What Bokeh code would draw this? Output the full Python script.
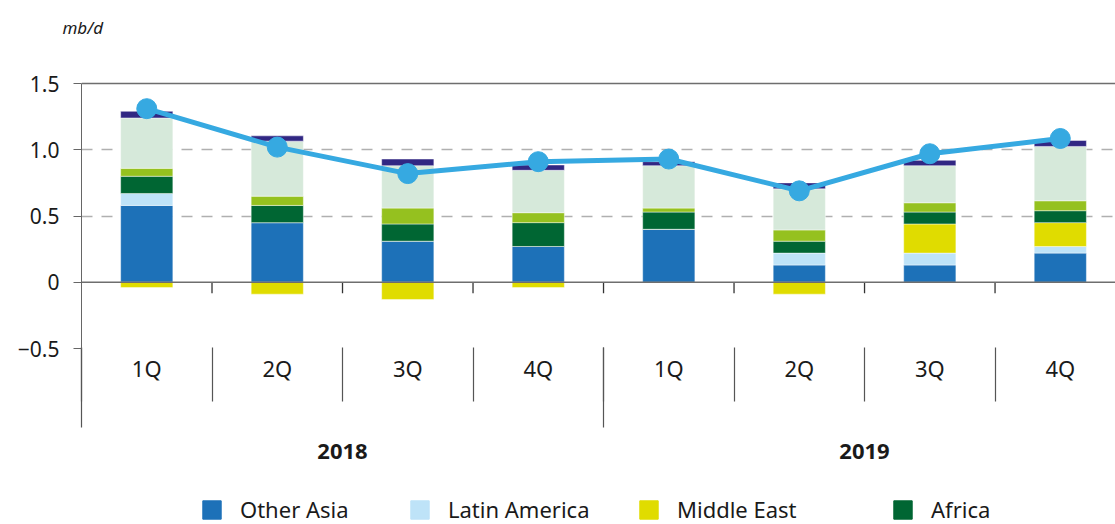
from bokeh.plotting import figure
from bokeh.layouts import column
from bokeh.models import (LinearAxis, FixedTicker, Range1d, Span, Legend,
                          LegendItem, ColumnDataSource)
from bokeh.embed import file_html
from bokeh.resources import INLINE

# ---------------- data ----------------
quarters = ["1Q", "2Q", "3Q", "4Q", "1Q", "2Q", "3Q", "4Q"]
years = ["2018", "2019"]

other_asia    = [0.58, 0.45, 0.31, 0.27, 0.40, 0.13, 0.13, 0.22]
latin_america = [0.09, 0.00, 0.00, 0.00, 0.00, 0.09, 0.09, 0.05]
middle_east   = [-0.04, -0.09, -0.13, -0.04, 0.00, -0.09, 0.22, 0.18]
africa        = [0.13, 0.13, 0.13, 0.18, 0.13, 0.09, 0.09, 0.09]
lime_series   = [0.06, 0.07, 0.12, 0.075, 0.03, 0.085, 0.07, 0.075]
pale_series   = [0.38, 0.415, 0.32, 0.32, 0.32, 0.31, 0.28, 0.41]
navy_series   = [0.05, 0.04, 0.05, 0.04, 0.03, 0.045, 0.04, 0.045]
total_line    = [1.31, 1.02, 0.82, 0.91, 0.93, 0.69, 0.97, 1.085]

series = [
    ("Other Asia", other_asia, "#1d71b8"),
    ("Latin America", latin_america, "#bee3f8"),
    ("Middle East", middle_east, "#e0dc00"),
    ("Africa", africa, "#006633"),
    ("lime", lime_series, "#95c11f"),
    ("pale", pale_series, "#d6e9da"),
    ("navy", navy_series, "#312783"),
]
legend_names = ["Other Asia", "Latin America", "Middle East", "Africa"]

y_ticks = [-0.5, 0, 0.5, 1.0, 1.5]
y_labels = ["\u22120.5", "0", "0.5", "1.0", "1.5"]

FONT = "Noto Sans"
TXT = "#1a1a1a"

x = [i + 0.5 for i in range(len(quarters))]
separators = list(range(len(quarters) + 1))
year_bounds = [0, 4, 8]

p = figure(width=1115, height=494, x_range=Range1d(0, 7.923),
           y_range=Range1d(-0.5, 1.802), output_backend="svg",
           toolbar_location=None, x_axis_type=None, title="mb/d",
           min_border_left=81, min_border_top=43, min_border_right=0,
           min_border_bottom=146)
p.outline_line_color = None
p.background_fill_color = "white"
p.border_fill_color = "white"

# title "mb/d"
p.title.align = "left"
p.title.offset = -19
p.title.standoff = 10
p.title.text_font = FONT
p.title.text_font_style = "italic"
p.title.text_font_size = "17px"
p.title.text_color = TXT

# y axis
yax = p.yaxis[0]
yax.ticker = FixedTicker(ticks=y_ticks)
yax.bounds = (y_ticks[0], y_ticks[-1])
yax.major_label_overrides = {t: l for t, l in zip(y_ticks, y_labels)}
yax.major_label_text_font = FONT
yax.major_label_text_font_size = "21px"
yax.major_label_text_color = TXT
yax.major_label_standoff = 14
yax.major_tick_out = 8
yax.major_tick_in = 0
yax.minor_tick_line_color = None
yax.axis_line_color = "#666666"
yax.major_tick_line_color = "#666666"

p.xgrid.visible = False
p.ygrid.ticker = FixedTicker(ticks=[-0.5, 0.5, 1.0])
p.ygrid.grid_line_color = "#b0b0b0"
p.ygrid.grid_line_dash = "11 9"
p.ygrid.grid_line_width = 1.3

# bars
pos = [0.0] * len(x)
neg = [0.0] * len(x)
sources = {}
for name, vals, color in series:
    bottoms, tops = [], []
    for i, v in enumerate(vals):
        if v >= 0:
            bottoms.append(pos[i]); tops.append(pos[i] + v); pos[i] += v
        else:
            tops.append(neg[i]); bottoms.append(neg[i] + v); neg[i] += v
    src = ColumnDataSource(dict(x=x, bottom=bottoms, top=tops))
    sources[name] = src
    p.vbar(x="x", bottom="bottom", top="top", width=0.4, source=src,
           fill_color=color, line_color="white", line_alpha=0.45, line_width=1)

# zero line, top line
p.add_layout(Span(location=0, dimension="width", line_color="#6e6e6e", line_width=1.6))
p.add_layout(Span(location=y_ticks[-1], dimension="width", line_color="#6e6e6e", line_width=1.6))

# small ticks under zero at category separators
inner = separators[1:-1]
p.segment(x0=inner, y0=[0] * len(inner), x1=inner, y1=[-0.083] * len(inner),
          line_color="#333333", line_width=1.3)

# line
p.line(x=x, y=total_line, line_color="#36a9e1", line_width=5)
p.scatter(x=x, y=total_line, size=20, fill_color="#36a9e1", line_color="#36a9e1")

# quarter axis (labels only)
ax1 = LinearAxis(ticker=FixedTicker(ticks=x, minor_ticks=[]))
ax1.major_label_overrides = {xi: q for xi, q in zip(x, quarters)}
ax1.axis_line_color = None
ax1.major_tick_out = 0
ax1.major_tick_in = 0
ax1.major_tick_line_color = None
ax1.minor_tick_line_color = None
ax1.minor_tick_out = 0
ax1.minor_tick_in = 0
ax1.major_label_standoff = 4
ax1.major_label_text_font = FONT
ax1.major_label_text_font_size = "22px"
ax1.major_label_text_color = TXT
p.add_layout(ax1, "below")

# separator / year axis
ax2 = LinearAxis(ticker=FixedTicker(ticks=separators, minor_ticks=year_bounds))
year_map = {2: years[0], 6: years[1]}
ax2.major_label_overrides = {s: year_map.get(s, "") for s in separators}
ax2.axis_line_color = None
ax2.major_tick_in = 38
ax2.major_tick_out = 16
ax2.major_tick_line_color = "#555555"
ax2.major_tick_line_width = 1.2
ax2.minor_tick_in = 38
ax2.minor_tick_out = 42
ax2.minor_tick_line_color = "#555555"
ax2.minor_tick_line_width = 1.2
ax2.major_label_standoff = 16
ax2.major_label_text_font = FONT
ax2.major_label_text_font_style = "bold"
ax2.major_label_text_font_size = "22px"
ax2.major_label_text_color = TXT
p.add_layout(ax2, "below")

# ---------------- legend strip ----------------
# same series drawn in a strip whose y range lies above the data, so only the legend shows
p2 = figure(width=1115, height=30, x_range=p.x_range, y_range=Range1d(10, 11),
            output_backend="svg", toolbar_location=None,
            x_axis_type=None, y_axis_type=None, min_border=0)
p2.outline_line_color = None
p2.grid.visible = False
p2.background_fill_alpha = 0
leg_x = [119, 327, 556, 810]
for (name, vals, color), lx in zip(series[:4], leg_x):
    r = p2.vbar(x="x", bottom="bottom", top="top", width=0.4, source=sources[name],
                fill_color=color, line_color=color)
    leg = Legend(items=[LegendItem(label=name, renderers=[r])],
                 location=(lx, 0), orientation="horizontal",
                 glyph_width=23, glyph_height=23, label_standoff=17,
                 padding=0, margin=0, border_line_color=None,
                 background_fill_alpha=0, label_text_font=FONT,
                 label_text_font_size="22px", label_text_color=TXT)
    p2.add_layout(leg)

layout = column(p, p2, spacing=0)
open("out.html", "w").write(file_html(layout, INLINE))
